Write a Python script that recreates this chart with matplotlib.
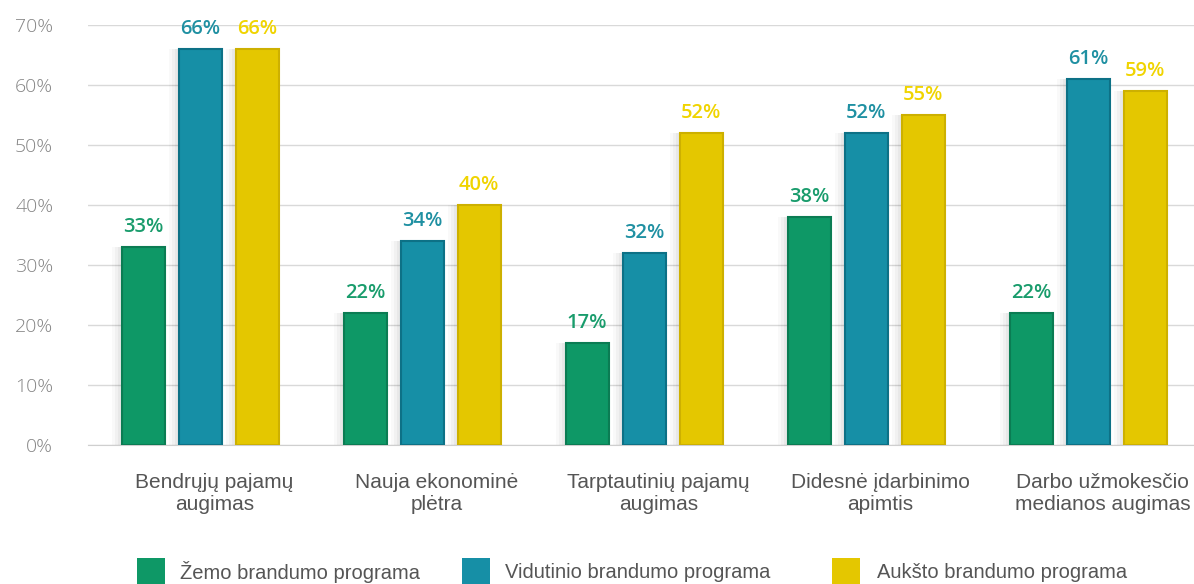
import matplotlib
matplotlib.use("Agg")
import matplotlib.pyplot as plt
import numpy as np
from matplotlib.patches import Rectangle

categories = ["Bendrųjų pajamų\naugimas", "Nauja ekonominė\nplėtra", "Tarptautinių pajamų\naugimas",
              "Didesnė įdarbinimo\napimtis", "Darbo užmokesčio\nmedianos augimas"]
series_names = ["Žemo brandumo programa", "Vidutinio brandumo programa", "Aukšto brandumo programa"]
low = [33, 22, 17, 38, 22]
mid = [66, 34, 32, 52, 61]
high = [66, 40, 52, 55, 59]
yticks = [0, 10, 20, 30, 40, 50, 60, 70]

bar_colors = ["#0e9866", "#168fa6", "#e4c700"]
edge_colors = ["#0b7c53", "#0d7186", "#cdb000"]
label_colors = ["#199c6c", "#1f90a2", "#f0d400"]

fig = plt.figure(figsize=(11.94, 5.84), dpi=100)
ax = fig.add_axes([88/1194, 1-445/584, 1-88/1194, (445-25)/584])

x = np.arange(len(categories))
w = 0.194
off = 0.257
for i, (vals, c, ec, lc) in enumerate(zip([low, mid, high], bar_colors, edge_colors, label_colors)):
    pos = x + (i-1)*off
    # soft shadow
    for k, a in [(0.045, 0.025), (0.03, 0.03), (0.015, 0.035)]:
        ax.bar(pos - k, vals, w, color="#000000", alpha=a, zorder=2, linewidth=0)
    bars = ax.bar(pos, vals, w, color=c, edgecolor=ec, linewidth=1.5, zorder=3)
    for b, v in zip(bars, vals):
        ax.annotate(f"{v}%", (b.get_x()+b.get_width()/2, v), xytext=(0, 7),
                    textcoords="offset points", ha="center", va="bottom",
                    fontsize=14.5, fontweight="semibold", color=lc, family="Open Sans",
                    annotation_clip=False)

ax.set_ylim(0, 70)
ax.set_xlim(-0.505, 4.477)
ax.set_yticks(yticks)
ax.set_yticklabels([f"{t}%" for t in yticks], fontsize=14, color="#858585", family="Open Sans",
                   fontweight="light")
ax.set_xticks(x + 0.065)
ax.set_xticklabels(categories, fontsize=15, color="#555555", family="Liberation Sans", linespacing=1.2)
ax.tick_params(axis="y", length=0, pad=25)
ax.tick_params(axis="x", length=0, pad=20)
ax.grid(axis="y", color="#d9d9d9", linewidth=1, zorder=0)
for s in ["top", "right", "left"]:
    ax.spines[s].set_visible(False)
ax.spines["bottom"].set_color("#cfcfcf")
ax.set_axisbelow(True)

# legend
sq_x = [137, 462, 832]
tx_x = [180, 505, 877]
for sx, tx, c, name in zip(sq_x, tx_x, bar_colors, series_names):
    fig.add_artist(Rectangle((sx/1194, 0), 28/1194, 26/584, transform=fig.transFigure,
                             color=c, linewidth=0))
    fig.text(tx/1194, 1-572/584, name, fontsize=14.5, color="#555555",
             family="Liberation Sans", va="center", ha="left")

fig.savefig("out.png", dpi=100)
